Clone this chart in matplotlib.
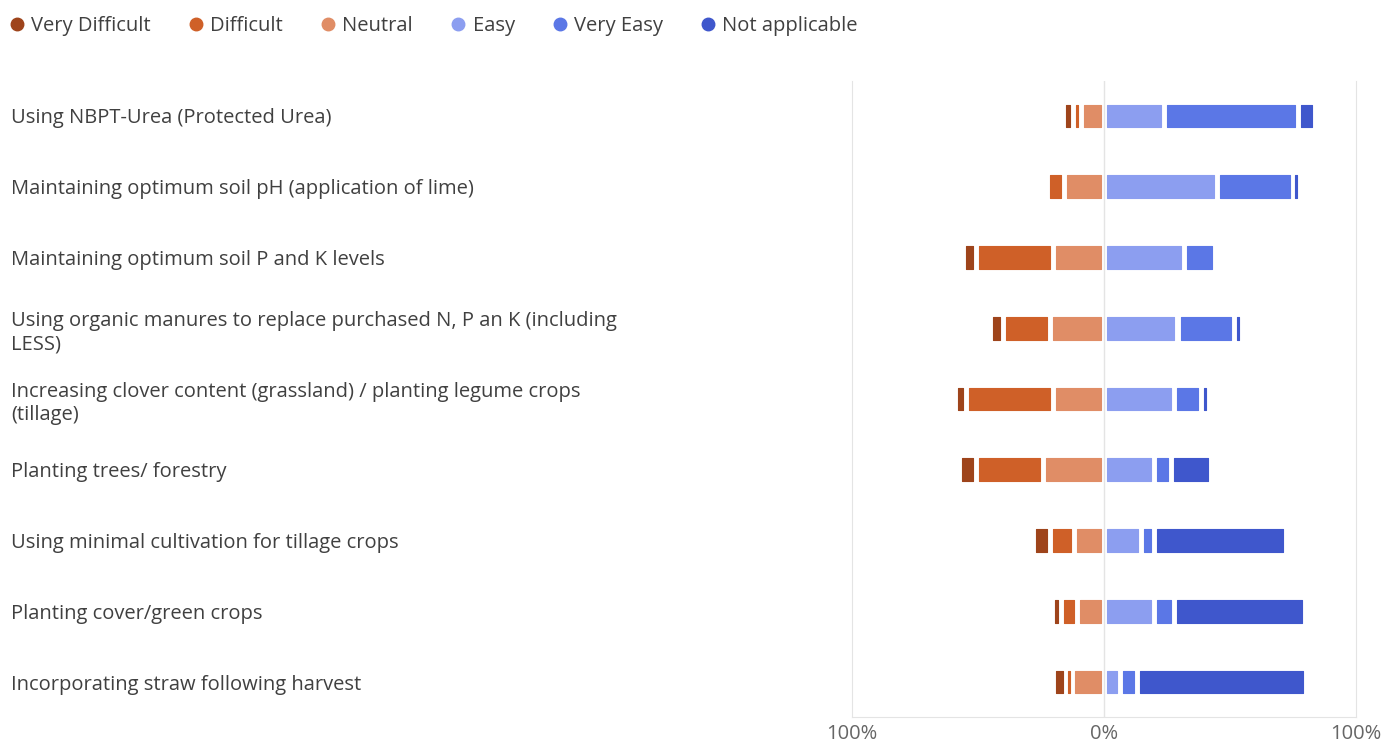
import numpy as np
import matplotlib
matplotlib.use("Agg")
import matplotlib.pyplot as plt
from matplotlib.lines import Line2D

plt.rcParams['font.family'] = ['Open Sans', 'DejaVu Sans']

# survey: how easy is each practice to adopt (% of respondents)
practices = [
    "Using NBPT-Urea (Protected Urea)",
    "Maintaining optimum soil pH (application of lime)",
    "Maintaining optimum soil P and K levels",
    "Using organic manures to replace purchased N, P an K (including\nLESS)",
    "Increasing clover content (grassland) / planting legume crops\n(tillage)",
    "Planting trees/ forestry",
    "Using minimal cultivation for tillage crops",
    "Planting cover/green crops",
    "Incorporating straw following harvest",
]
very_difficult = [4.0, 0.0, 5.4, 5.4, 4.3, 6.5, 6.9, 3.4, 5.1]
difficult      = [2.9, 6.5, 30.6, 18.5, 34.6, 26.8, 9.3, 6.5, 2.3]
neutral        = [9.3, 16.0, 20.1, 21.4, 20.1, 24.1, 12.0, 10.7, 12.8]
easy           = [23.9, 45.0, 31.9, 29.2, 27.9, 19.9, 14.6, 20.0, 6.5]
very_easy      = [53.3, 30.0, 12.0, 22.5, 10.6, 6.8, 5.4, 7.9, 6.7]
not_applicable = [6.6, 2.5, 0.0, 3.2, 3.3, 15.9, 52.1, 51.9, 67.0]

labels = ["Very Difficult", "Difficult", "Neutral", "Easy", "Very Easy", "Not applicable"]
colors = ["#9e441b", "#cf6028", "#e08d66", "#8c9ef0", "#5b77e6", "#3f57cc"]

fig = plt.figure(figsize=(13.98, 7.44), dpi=100)
ax = fig.add_axes([0.6094, 0.0357, 0.3605, 0.856])

y = np.arange(len(practices))
gap = 2.4      # white gap between segments, in %
min_w = 0.8    # tiny answers still show as a sliver

neg = [neutral, difficult, very_difficult]
pos = [easy, very_easy, not_applicable]

def draw_segments(series_list, cols, sign):
    start = np.zeros(len(practices))
    for vals, c in zip(series_list, cols):
        vals = np.array(vals)
        for i in range(len(practices)):
            if vals[i] <= 0:
                continue
            w = max(vals[i] - gap, min_w)
            mid = sign * (start[i] + vals[i] / 2)
            ax.barh(y[i], w, left=mid - w / 2, height=0.32, color=c,
                    edgecolor=c, linewidth=0.8, joinstyle='round', zorder=3)
        start += vals

draw_segments(neg, [colors[2], colors[1], colors[0]], -1)
draw_segments(pos, colors[3:], 1)

ax.axvline(0, color="#e4e4e4", lw=1, zorder=1)
ax.set_xlim(-100, 100)
ax.set_ylim(len(practices) - 0.5, -0.5)
ax.set_xticks([-100, 0, 100])
ax.set_xticklabels(["100%", "0%", "100%"], fontsize=14.5, color="#666666")
ax.tick_params(axis='x', length=0, pad=5)
ax.set_yticks(y)
ax.set_yticklabels(practices, fontsize=14.5, color="#404040", ha='left',
                   linespacing=1.25)
# labels start near the left edge of the figure (pad is in points)
ax.tick_params(axis='y', length=0, pad=605.5)
for s in ["left", "right", "bottom"]:
    ax.spines[s].set_color("#e4e4e4")
ax.spines["top"].set_visible(False)

handles = [Line2D([0], [0], marker='o', color='w', markerfacecolor=c,
                  markeredgecolor=c, markersize=9, label=l)
           for l, c in zip(labels, colors)]
fig.legend(handles=handles, loc='upper left', bbox_to_anchor=(-0.005, 1.003),
           ncol=6, frameon=False, fontsize=14.5, handlelength=0.6,
           handletextpad=0.4, columnspacing=1.95, labelcolor="#404040")

fig.savefig("out.png", dpi=100)
